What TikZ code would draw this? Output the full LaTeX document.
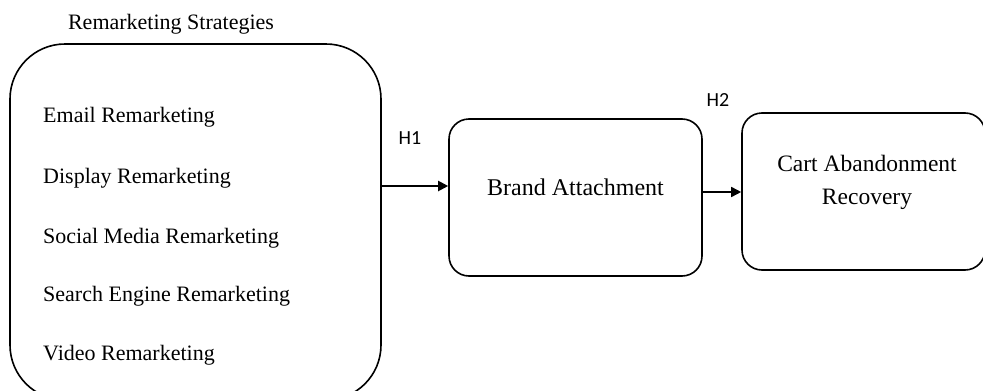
\documentclass[tikz,border=0pt]{standalone}
\usepackage{fontspec}
\setmainfont{Liberation Serif}
\newfontfamily\hfont{Carlito}
\usetikzlibrary{arrows.meta}
\begin{document}
\begin{tikzpicture}[x=1pt,y=-1pt,
  boxline/.style={draw=black,line width=1.6pt},
  item/.style={anchor=west,inner sep=0pt,font=\fontsize{22}{26}\selectfont},
  hlabel/.style={inner sep=0pt,font=\hfont\fontsize{20}{24}\selectfont},
  conn/.style={line width=2pt,-{Triangle[length=10pt,width=10pt]}}]
\useasboundingbox (0,0) rectangle (983,391);
% big box
\draw[boxline,rounded corners=55pt] (10,44) rectangle (381,400);
\coordinate (bigR) at (381,186);
\node[inner sep=0pt,font=\fontsize{22}{26}\selectfont] (title) at (171,24) {Remarketing Strategies};
\node[item] (i1) at (43,117) {Email Remarketing};
\node[item] (i2) at (43,178) {Display Remarketing};
\node[item] (i3) at (43,238) {Social Media Remarketing};
\node[item] (i4) at (43,296) {Search Engine Remarketing};
\node[item] (i5) at (43,355) {Video Remarketing};
% brand box
\node[boxline,rounded corners=20pt,minimum width=253pt,minimum height=157pt,inner sep=0pt] (brand) at (575.5,197.5) {};
\node[inner sep=0pt,font=\fontsize{24}{28}\selectfont] (brandtxt) at (575.5,187) {Brand Attachment};
% cart box
\node[boxline,rounded corners=20pt,minimum width=243pt,minimum height=157pt,inner sep=0pt] (cart) at (863.5,191.5) {};
\node[inner sep=0pt,align=center,font=\fontsize{23.5}{33}\selectfont] (carttxt) at (867,182) {Cart Abandonment\\Recovery};
% labels
\node[hlabel] (h1) at (410,138) {H1};
\node[hlabel] (h2) at (718,100) {H2};
% connectors
\draw[conn] (bigR) -- (brand.west |- bigR);
\draw[conn,line width=1.6pt] (brand.east |- 0,192) -- (cart.west |- 0,192);
\end{tikzpicture}
\end{document}
